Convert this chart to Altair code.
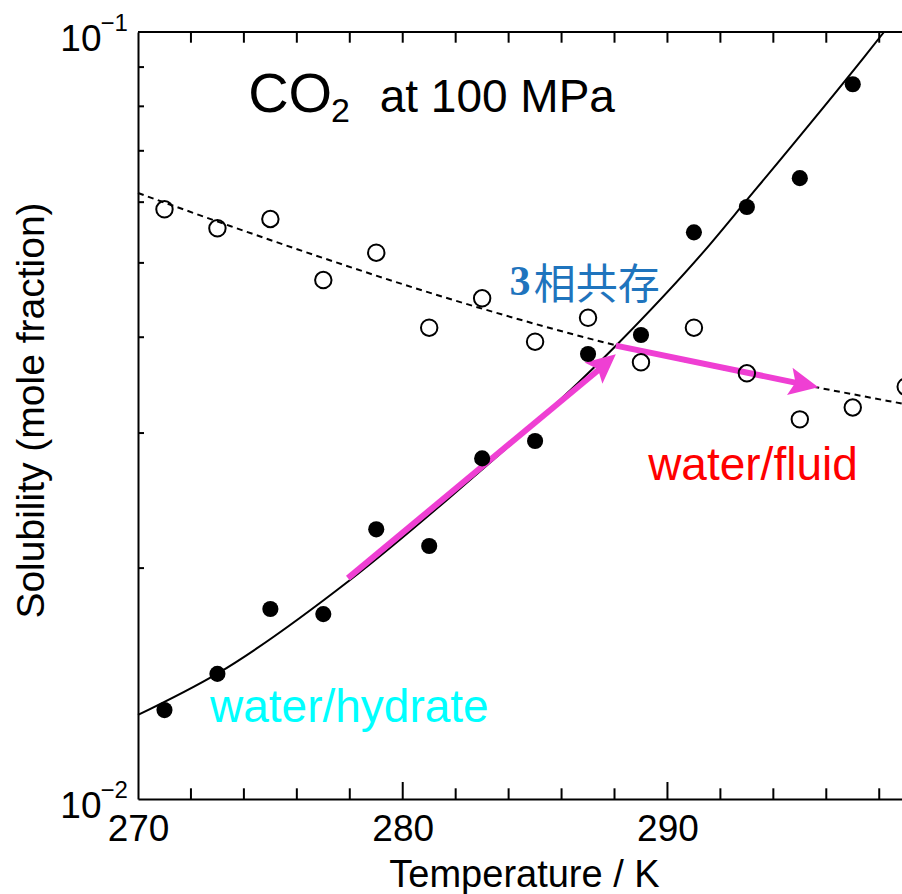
import altair as alt
import pandas as pd

# ---------------- data ----------------
hyd_T = [271, 273, 275, 277, 279, 281, 283, 285, 287, 289, 291, 293, 295, 297]
hyd_v = [0.01306, 0.01456, 0.01769, 0.01742, 0.02247, 0.02137, 0.02780,
         0.02929, 0.03804, 0.04027, 0.05480, 0.05913, 0.06448, 0.08547]

flu_T = [271, 273, 275, 277, 279, 281, 283, 285, 287, 289, 291, 293, 295, 297, 299]
flu_v = [0.05873, 0.05547, 0.05704, 0.04749, 0.05155, 0.04116, 0.04496,
         0.03947, 0.04240, 0.03710, 0.04116, 0.03589, 0.03126, 0.03239, 0.03448]

solid_T = [270.0, 272.98, 278.01, 281.79, 288.08, 291.42, 293.0, 297.4, 298.18]
solid_v = [0.01287, 0.01456, 0.01930, 0.02475, 0.03907, 0.05196, 0.06040, 0.09249, 0.1]

dash_T = [270.0, 273.48, 276.99, 281.79, 288.08, 295.76, 298.86]
dash_v = [0.06167, 0.05586, 0.05074, 0.04486, 0.03902, 0.03435, 0.03278]

arrow1_T = [277.93, 287.70]
arrow1_v = [0.01941, 0.03700]
arrow2_T = [288.05, 295.10]
arrow2_v = [0.03900, 0.03475]
head1_T, head1_v = [288.05], [0.03800]
head2_T, head2_v = [295.70], [0.03442]

x_label_values = [270, 280, 290]
x_minor = [272, 274, 276, 278, 282, 284, 286, 288, 292, 294, 296, 298]
x_major = [280, 290]
y_minor = [0.02, 0.03, 0.04, 0.05, 0.06, 0.07, 0.08, 0.09]
y_label_v = [0.1, 0.01]
y_label_base = ["10", "10"]
y_label_exp = ["\u22121", "\u22122"]

W, H = 764, 767
FONT = "Liberation Sans"
MAG = "#ef3fd3"

xs = alt.Scale(domain=[270, 298.86], nice=False, zero=False)
ys = alt.Scale(type="log", domain=[0.01, 0.1], nice=False)

x_axis = alt.Axis(values=x_label_values, title="Temperature / K", grid=False,
                  ticks=False, tickSize=0, domain=True, domainColor="black",
                  domainWidth=2, labelFont=FONT, labelFontSize=37,
                  labelColor="black", labelFlush=False, labelOverlap=False,
                  labelBaseline="alphabetic", labelPadding=41,
                  titleFont=FONT, titleFontSize=38, titleFontWeight="normal",
                  titleColor="black", titleX=386, titleY=87.7,
                  titleBaseline="alphabetic", titleAlign="center")
y_axis = alt.Axis(values=y_minor, title="Solubility (mole fraction)", grid=False,
                  ticks=False, tickSize=0, labels=False, domain=True,
                  domainColor="black", domainWidth=2, titleFont=FONT,
                  titleFontSize=39, titleFontWeight="normal", titleColor="black",
                  titleAngle=270, titleX=-95, titleY=378,
                  titleBaseline="alphabetic", titleAlign="center")


def X():
    return alt.X("T:Q", scale=xs, axis=x_axis)


def Y():
    return alt.Y("v:Q", scale=ys, axis=y_axis)


solid_df = pd.DataFrame({"T": solid_T, "v": solid_v})
dash_df = pd.DataFrame({"T": dash_T, "v": dash_v})

solid = alt.Chart(solid_df).mark_line(color="black", strokeWidth=2,
                                      interpolate="monotone").encode(x=X(), y=Y())
dashed = alt.Chart(dash_df).mark_line(color="black", strokeWidth=2,
                                      strokeDash=[6, 4.5],
                                      interpolate="monotone").encode(x=X(), y=Y())

arrow1 = alt.Chart(pd.DataFrame({"T": arrow1_T, "v": arrow1_v})).mark_line(
    color=MAG, strokeWidth=6, strokeCap="butt").encode(x=X(), y=Y())
arrow2 = alt.Chart(pd.DataFrame({"T": arrow2_T, "v": arrow2_v})).mark_line(
    color=MAG, strokeWidth=6, strokeCap="butt").encode(x=X(), y=Y())

HEAD = "M0,0 L0.95,2 L0,1.6 L-0.95,2 Z"
head1 = alt.Chart(pd.DataFrame({"T": head1_T, "v": head1_v})).mark_point(
    shape=HEAD, filled=True, size=850, angle=50, color=MAG, opacity=1,
    strokeWidth=0).encode(x=X(), y=Y())
head2 = alt.Chart(pd.DataFrame({"T": head2_T, "v": head2_v})).mark_point(
    shape=HEAD, filled=True, size=850, angle=101.6, color=MAG, opacity=1,
    strokeWidth=0).encode(x=X(), y=Y())

hyd_pts = alt.Chart(pd.DataFrame({"T": hyd_T, "v": hyd_v})).mark_circle(
    size=260, color="black", opacity=1).encode(x=X(), y=Y())
flu_pts = alt.Chart(pd.DataFrame({"T": flu_T, "v": flu_v})).mark_point(
    shape="circle", filled=False, size=270, color="black", strokeWidth=2,
    opacity=1).encode(x=X(), y=Y())


def label(text, T, v, size, color="black", font=FONT, weight="normal"):
    return alt.Chart(pd.DataFrame({"T": [T], "v": [v], "t": [text]})).mark_text(
        align="left", baseline="alphabetic", font=font, fontSize=size,
        fontWeight=weight, color=color).encode(x=X(), y=Y(), text="t:N")


ann = [
    label("CO", 274.16, 0.07870, 56),
    label("2", 277.29, 0.07638, 34),
    label("at 100 MPa", 279.13, 0.07870, 46),
    label("3", 284.03, 0.04541, 42, color="#1f74bd", font="Liberation Serif",
          weight="bold"),
    label("相共存", 284.95, 0.04487, 42, color="#1f74bd", font="Noto Sans CJK JP"),
    label("water/fluid", 289.27, 0.02604, 46, color="#ff0000"),
    label("water/hydrate", 272.72, 0.01261, 46, color="#00ffff"),
]

ylab_df = pd.DataFrame({"v": y_label_v, "b": y_label_base, "e": y_label_exp})
ylab_base = alt.Chart(ylab_df).mark_text(
    align="right", baseline="alphabetic", font=FONT, fontSize=37, dy=18.5,
    color="black").encode(x=alt.value(-36.5), y=Y(), text="b:N")
ylab_exp = alt.Chart(ylab_df).mark_text(
    align="left", baseline="alphabetic", font=FONT, fontSize=24, dy=-1.5,
    color="black").encode(x=alt.value(-37.5), y=Y(), text="e:N")

# inward ticks
xmin_df = pd.DataFrame({"T": x_minor})
xmaj_df = pd.DataFrame({"T": x_major})
ymin_df = pd.DataFrame({"v": y_minor})
tick_style = dict(color="black", strokeWidth=2)
ticks = [
    alt.Chart(xmin_df).mark_rule(**tick_style).encode(
        x=X(), y=alt.value(H), y2=alt.value(H - 10.7)),
    alt.Chart(xmaj_df).mark_rule(**tick_style).encode(
        x=X(), y=alt.value(H), y2=alt.value(H - 17)),
    alt.Chart(pd.concat([xmin_df, xmaj_df])).mark_rule(**tick_style).encode(
        x=X(), y=alt.value(0), y2=alt.value(10.7)),
    alt.Chart(ymin_df).mark_rule(**tick_style).encode(
        y=Y(), x=alt.value(0), x2=alt.value(6)),
]
frame_top = alt.Chart(pd.DataFrame({"a": [0]})).mark_rule(
    color="black", strokeWidth=2).encode(x=alt.value(0), x2=alt.value(W),
                                         y=alt.value(0))

chart = alt.layer(
    solid, dashed, arrow1, arrow2, head1, head2, hyd_pts, flu_pts,
    *ann, ylab_base, ylab_exp, *ticks, frame_top
).properties(
    width=W, height=H,
    autosize=alt.AutoSizeParams(type="none"),
    padding={"left": 138, "top": 32, "right": 0, "bottom": 95},
    background="white",
).configure_view(strokeWidth=0)

chart.save("out.html", embed_options={"renderer": "svg", "actions": False})
